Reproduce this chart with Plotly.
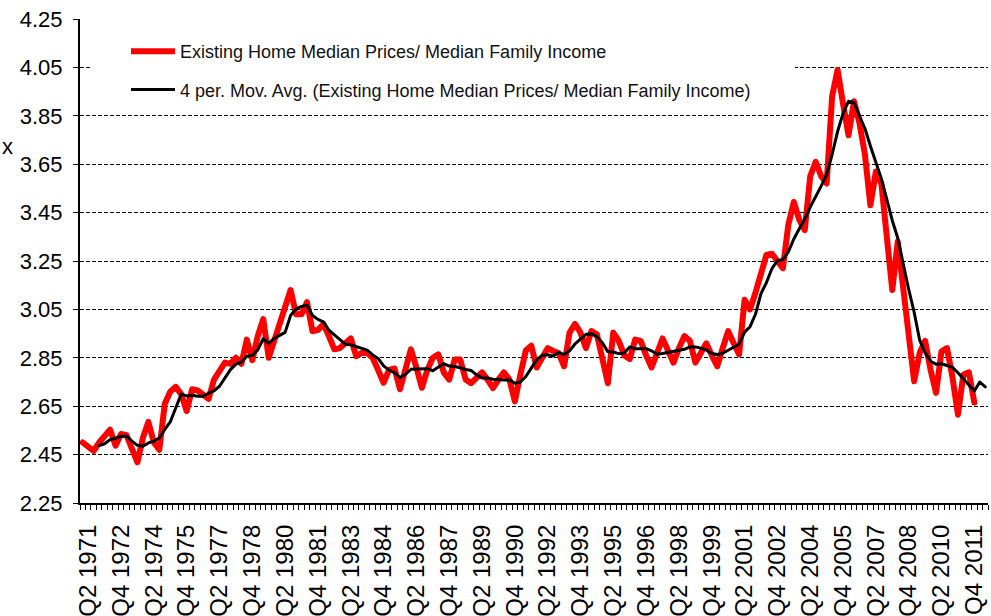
import plotly.graph_objects as go
import pandas as pd

# Quarters Q1 1971 .. Q2 2012 (category axis)
years = list(range(1971, 2013))
quarters = [f"Q{q} {y}" for y in years for q in (1, 2, 3, 4)]
quarters = quarters[: quarters.index("Q2 2012") + 1]

# Existing Home Median Prices / Median Family Income, Q1 1971 .. Q4 2011
ratio = [
    2.50, 2.485, 2.465, 2.50, 2.53, 2.553, 2.487, 2.535, 2.53, 2.47,
    2.418, 2.52, 2.585, 2.50, 2.47, 2.66, 2.71, 2.73, 2.70, 2.63,
    2.72, 2.715, 2.70, 2.68, 2.76, 2.79, 2.83, 2.825, 2.85, 2.825,
    2.925, 2.84, 2.94, 3.01, 2.85, 2.92, 2.99, 3.06, 3.13, 3.03,
    3.03, 3.08, 2.96, 2.965, 2.99, 2.94, 2.885, 2.89, 2.91, 2.93,
    2.857, 2.87, 2.87, 2.85, 2.80, 2.747, 2.80, 2.806, 2.72, 2.80,
    2.885, 2.81, 2.726, 2.80, 2.85, 2.864, 2.79, 2.76, 2.843, 2.843,
    2.76, 2.745, 2.77, 2.79, 2.76, 2.725, 2.76, 2.79, 2.76, 2.67,
    2.78, 2.88, 2.90, 2.81, 2.85, 2.89, 2.878, 2.87, 2.815, 2.954,
    2.99, 2.954, 2.89, 2.96, 2.947, 2.85, 2.745, 2.954, 2.92, 2.86,
    2.845, 2.925, 2.92, 2.86, 2.81, 2.87, 2.93, 2.88, 2.83, 2.89,
    2.94, 2.92, 2.83, 2.87, 2.91, 2.86, 2.815, 2.89, 2.96, 2.91,
    2.864, 3.09, 3.05, 3.12, 3.20, 3.275, 3.28, 3.25, 3.22, 3.40,
    3.494, 3.42, 3.378, 3.60, 3.66, 3.60, 3.57, 3.93, 4.04, 3.90,
    3.77, 3.91, 3.82, 3.69, 3.48, 3.62, 3.57, 3.35, 3.13, 3.33,
    3.13, 2.94, 2.753, 2.87, 2.92, 2.80, 2.705, 2.877, 2.89, 2.77,
    2.615, 2.78, 2.79, 2.665,
]
# trailing moving-average points shown beyond the last ratio value (Q1, Q2 2012)
ma_tail = [2.75, 2.73]

tick_labels = quarters[1::6]

ma = pd.Series(ratio).rolling(4).mean().dropna().tolist() + ma_tail
ma_x = quarters[3:3 + len(ma)]

FONT = "Arial, Liberation Sans, sans-serif"
L, R, T, B = 80, 3, 19, 113
PW, PH = 991 - L - R, 616 - T - B

fig = go.Figure()
fig.add_trace(go.Scatter(
    x=quarters[:len(ratio)], y=ratio, mode="lines",
    name="Existing Home Median Prices/ Median Family Income",
    line=dict(color="#FF0000", width=6), legendgroup="a",
))
fig.add_trace(go.Scatter(
    x=ma_x, y=ma, mode="lines",
    name="4 per. Mov. Avg. (Existing Home Median Prices/ Median Family Income)",
    line=dict(color="#000000", width=3), legendgroup="b",
))

fig.update_layout(
    width=991, height=616,
    margin=dict(l=L, r=R, t=T, b=B, autoexpand=False),
    paper_bgcolor="white", plot_bgcolor="white",
    font=dict(family=FONT, color="black"),
    showlegend=True,
    legend=dict(
        x=(126 - L) / PW, y=1 - (33 - T) / PH, xanchor="left", yanchor="top",
        bgcolor="white", borderwidth=0,
        font=dict(size=18, family=FONT, color="#111111"),
        traceorder="grouped", tracegroupgap=12, itemwidth=44,
    ),
    xaxis=dict(
        type="category", categoryorder="array", categoryarray=quarters,
        range=[-0.5, len(quarters) - 0.5],
        tickmode="array", tickvals=quarters,
        ticktext=[q if q in tick_labels else "" for q in quarters],
        tickson="boundaries", ticks="outside", ticklen=5, tickwidth=1,
        tickcolor="black", tickangle=-90, ticklabelstandoff=10,
        tickfont=dict(size=24, family=FONT, color="black"),
        showline=True, linecolor="black", linewidth=2,
        showgrid=False, zeroline=False, automargin=False,
    ),
    yaxis=dict(
        range=[2.25, 4.25], tick0=2.25, dtick=0.2, tickformat=".2f",
        ticks="outside", ticklen=5, tickcolor="black", ticklabelstandoff=6,
        tickfont=dict(size=22, family=FONT, color="black"),
        showline=True, linecolor="black", linewidth=2,
        showgrid=True, gridcolor="black", gridwidth=1, griddash="4px,2px",
        zeroline=False, automargin=False,
    ),
    shapes=[dict(
        type="rect", xref="paper", yref="y",
        x0=(92 - L) / PW, x1=(795 - L) / PW, y0=3.98, y1=4.12,
        fillcolor="white", line=dict(width=0), layer="above",
    )],
    annotations=[dict(
        text="x", xref="paper", yref="paper", xanchor="left",
        x=(0 - L) / PW, y=(503 - 132) / PH,
        showarrow=False, font=dict(size=22, family=FONT, color="black"),
    )],
)

fig.write_html(
    "out.html",
    config={"displayModeBar": False},
    post_script="document.body.style.margin='0';"
                "document.querySelectorAll('.scatterlayer path.js-line')"
                ".forEach(function(p){p.style.strokeLinejoin='round';p.style.strokeLinecap='round';});",
)
